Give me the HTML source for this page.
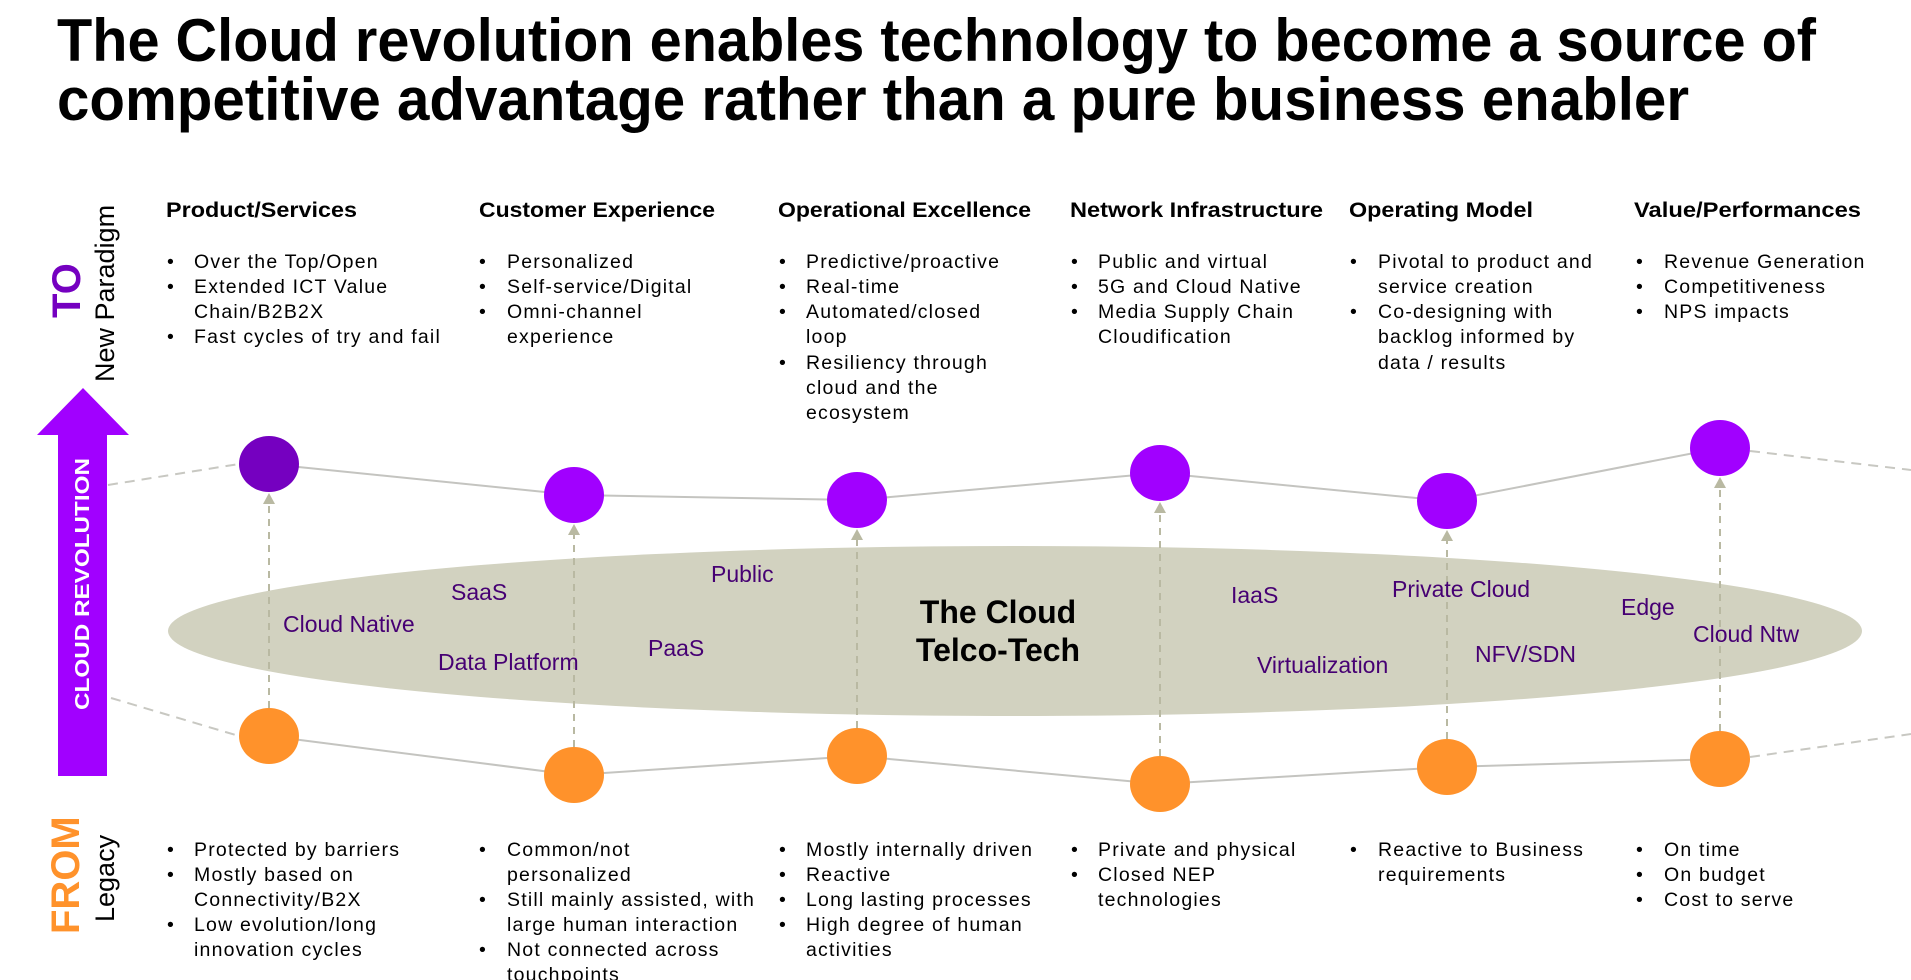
<!DOCTYPE html>
<html><head><meta charset="utf-8"><style>
html,body{margin:0;padding:0;background:#fff;}
svg{display:block;}
.h{font-family:"Liberation Sans",sans-serif;font-weight:bold;font-size:21px;fill:#000;}
.b{font-family:"Liberation Sans",sans-serif;font-size:19.5px;fill:#000;letter-spacing:1.2px;}
.l{font-family:"Liberation Sans",sans-serif;font-size:23px;fill:#460073;}
</style></head><body>
<svg width="1911" height="980" viewBox="0 0 1911 980" xmlns="http://www.w3.org/2000/svg">
<text x="57" y="61" font-family="Liberation Sans, sans-serif" font-weight="bold" font-size="60" textLength="1759" lengthAdjust="spacingAndGlyphs">The Cloud revolution enables technology to become a source of</text>
<text x="57" y="120" font-family="Liberation Sans, sans-serif" font-weight="bold" font-size="60" textLength="1632" lengthAdjust="spacingAndGlyphs">competitive advantage rather than a pure business enabler</text>

<text transform="translate(80,318) rotate(-90)" font-family="Liberation Sans, sans-serif" font-weight="bold" font-size="40" fill="#7500c0">TO</text>
<text transform="translate(114,382) rotate(-90)" font-family="Liberation Sans, sans-serif" font-size="27" fill="#000">New Paradigm</text>
<text transform="translate(79,934) rotate(-90)" font-family="Liberation Sans, sans-serif" font-weight="bold" font-size="40" fill="#ff922b">FROM</text>
<text transform="translate(114,922) rotate(-90)" font-family="Liberation Sans, sans-serif" font-size="27" fill="#000">Legacy</text>

<polygon points="58,776 58,435 37,435 83,388 129,435 107,435 107,776" fill="#a100ff"/>
<text transform="translate(89,710) rotate(-90)" font-family="Liberation Sans, sans-serif" font-weight="bold" font-size="20" fill="#fff" textLength="252" lengthAdjust="spacingAndGlyphs">CLOUD REVOLUTION</text>

<ellipse cx="1015" cy="631" rx="847" ry="85" fill="#d2d2c0"/>

<g stroke="#c4c4c0" stroke-width="2" fill="none">
<polyline points="269,464 574,495 857,500 1160,473 1447,501 1720,448"/>
<polyline points="269,736 574,775 857,756 1160,784 1447,767 1720,759"/>
</g>
<g stroke="#c8c8c2" stroke-width="2" fill="none" stroke-dasharray="10,7">
<line x1="108" y1="485" x2="239" y2="464"/>
<line x1="111" y1="698" x2="239" y2="736"/>
<line x1="1750" y1="451" x2="1911" y2="470"/>
<line x1="1750" y1="757" x2="1911" y2="734"/>
</g>
<g stroke="#b9b9a2" stroke-width="2" stroke-dasharray="7,6">
<line x1="269" y1="708" x2="269" y2="502"/>
<line x1="574" y1="747" x2="574" y2="533"/>
<line x1="857" y1="728" x2="857" y2="538"/>
<line x1="1160" y1="756" x2="1160" y2="511"/>
<line x1="1447" y1="739" x2="1447" y2="539"/>
<line x1="1720" y1="731" x2="1720" y2="486"/>
</g>
<g fill="#b9b9a2">
<polygon points="263,504 275,504 269,493"/>
<polygon points="568,535 580,535 574,524"/>
<polygon points="851,540 863,540 857,529"/>
<polygon points="1154,513 1166,513 1160,502"/>
<polygon points="1441,541 1453,541 1447,530"/>
<polygon points="1714,488 1726,488 1720,477"/>
</g>
<ellipse cx="269" cy="464" rx="30" ry="28" fill="#7500c0"/>
<ellipse cx="574" cy="495" rx="30" ry="28" fill="#a100ff"/>
<ellipse cx="857" cy="500" rx="30" ry="28" fill="#a100ff"/>
<ellipse cx="1160" cy="473" rx="30" ry="28" fill="#a100ff"/>
<ellipse cx="1447" cy="501" rx="30" ry="28" fill="#a100ff"/>
<ellipse cx="1720" cy="448" rx="30" ry="28" fill="#a100ff"/>
<g fill="#ff922b">
<ellipse cx="269" cy="736" rx="30" ry="28"/>
<ellipse cx="574" cy="775" rx="30" ry="28"/>
<ellipse cx="857" cy="756" rx="30" ry="28"/>
<ellipse cx="1160" cy="784" rx="30" ry="28"/>
<ellipse cx="1447" cy="767" rx="30" ry="28"/>
<ellipse cx="1720" cy="759" rx="30" ry="28"/>
</g>

<text x="998" y="623" text-anchor="middle" font-family="Liberation Sans, sans-serif" font-weight="bold" font-size="32">The Cloud</text>
<text x="998" y="661" text-anchor="middle" font-family="Liberation Sans, sans-serif" font-weight="bold" font-size="32">Telco-Tech</text>
<text class="l" x="283" y="632">Cloud Native</text>
<text class="l" x="451" y="600">SaaS</text>
<text class="l" x="711" y="582">Public</text>
<text class="l" x="438" y="670">Data Platform</text>
<text class="l" x="648" y="656">PaaS</text>
<text class="l" x="1231" y="603">IaaS</text>
<text class="l" x="1392" y="597">Private Cloud</text>
<text class="l" x="1621" y="615">Edge</text>
<text class="l" x="1693" y="642">Cloud Ntw</text>
<text class="l" x="1257" y="673">Virtualization</text>
<text class="l" x="1475" y="662">NFV/SDN</text>

<text class="h" x="166" y="217" textLength="191" lengthAdjust="spacingAndGlyphs">Product/Services</text>
<text class="h" x="479" y="217" textLength="236" lengthAdjust="spacingAndGlyphs">Customer Experience</text>
<text class="h" x="778" y="217" textLength="253" lengthAdjust="spacingAndGlyphs">Operational Excellence</text>
<text class="h" x="1070" y="217" textLength="253" lengthAdjust="spacingAndGlyphs">Network Infrastructure</text>
<text class="h" x="1349" y="217" textLength="184" lengthAdjust="spacingAndGlyphs">Operating Model</text>
<text class="h" x="1634" y="217" textLength="227" lengthAdjust="spacingAndGlyphs">Value/Performances</text>

<g>
<text class="b" x="167" y="268">•</text><text class="b" x="194" y="268">Over the Top/Open</text>
<text class="b" x="167" y="293">•</text><text class="b" x="194" y="293">Extended ICT Value</text>
<text class="b" x="194" y="318">Chain/B2B2X</text>
<text class="b" x="167" y="343">•</text><text class="b" x="194" y="343">Fast cycles of try and fail</text>

<text class="b" x="479" y="268">•</text><text class="b" x="507" y="268">Personalized</text>
<text class="b" x="479" y="293">•</text><text class="b" x="507" y="293">Self-service/Digital</text>
<text class="b" x="479" y="318">•</text><text class="b" x="507" y="318">Omni-channel</text>
<text class="b" x="507" y="343">experience</text>

<text class="b" x="779" y="268">•</text><text class="b" x="806" y="268">Predictive/proactive</text>
<text class="b" x="779" y="293">•</text><text class="b" x="806" y="293">Real-time</text>
<text class="b" x="779" y="318">•</text><text class="b" x="806" y="318">Automated/closed</text>
<text class="b" x="806" y="343">loop</text>
<text class="b" x="779" y="369">•</text><text class="b" x="806" y="369">Resiliency through</text>
<text class="b" x="806" y="394">cloud and the</text>
<text class="b" x="806" y="419">ecosystem</text>

<text class="b" x="1071" y="268">•</text><text class="b" x="1098" y="268">Public and virtual</text>
<text class="b" x="1071" y="293">•</text><text class="b" x="1098" y="293">5G and Cloud Native</text>
<text class="b" x="1071" y="318">•</text><text class="b" x="1098" y="318">Media Supply Chain</text>
<text class="b" x="1098" y="343">Cloudification</text>

<text class="b" x="1350" y="268">•</text><text class="b" x="1378" y="268">Pivotal to product and</text>
<text class="b" x="1378" y="293">service creation</text>
<text class="b" x="1350" y="318">•</text><text class="b" x="1378" y="318">Co-designing with</text>
<text class="b" x="1378" y="343">backlog informed by</text>
<text class="b" x="1378" y="369">data / results</text>

<text class="b" x="1636" y="268">•</text><text class="b" x="1664" y="268">Revenue Generation</text>
<text class="b" x="1636" y="293">•</text><text class="b" x="1664" y="293">Competitiveness</text>
<text class="b" x="1636" y="318">•</text><text class="b" x="1664" y="318">NPS impacts</text>

<text class="b" x="167" y="856">•</text><text class="b" x="194" y="856">Protected by barriers</text>
<text class="b" x="167" y="881">•</text><text class="b" x="194" y="881">Mostly based on</text>
<text class="b" x="194" y="906">Connectivity/B2X</text>
<text class="b" x="167" y="931">•</text><text class="b" x="194" y="931">Low evolution/long</text>
<text class="b" x="194" y="956">innovation cycles</text>

<text class="b" x="479" y="856">•</text><text class="b" x="507" y="856">Common/not</text>
<text class="b" x="507" y="881">personalized</text>
<text class="b" x="479" y="906">•</text><text class="b" x="507" y="906">Still mainly assisted, with</text>
<text class="b" x="507" y="931">large human interaction</text>
<text class="b" x="479" y="956">•</text><text class="b" x="507" y="956">Not connected across</text>
<text class="b" x="507" y="981">touchpoints</text>

<text class="b" x="779" y="856">•</text><text class="b" x="806" y="856">Mostly internally driven</text>
<text class="b" x="779" y="881">•</text><text class="b" x="806" y="881">Reactive</text>
<text class="b" x="779" y="906">•</text><text class="b" x="806" y="906">Long lasting processes</text>
<text class="b" x="779" y="931">•</text><text class="b" x="806" y="931">High degree of human</text>
<text class="b" x="806" y="956">activities</text>

<text class="b" x="1071" y="856">•</text><text class="b" x="1098" y="856">Private and physical</text>
<text class="b" x="1071" y="881">•</text><text class="b" x="1098" y="881">Closed NEP</text>
<text class="b" x="1098" y="906">technologies</text>

<text class="b" x="1350" y="856">•</text><text class="b" x="1378" y="856">Reactive to Business</text>
<text class="b" x="1378" y="881">requirements</text>

<text class="b" x="1636" y="856">•</text><text class="b" x="1664" y="856">On time</text>
<text class="b" x="1636" y="881">•</text><text class="b" x="1664" y="881">On budget</text>
<text class="b" x="1636" y="906">•</text><text class="b" x="1664" y="906">Cost to serve</text>
</g>
</svg>
</body></html>
